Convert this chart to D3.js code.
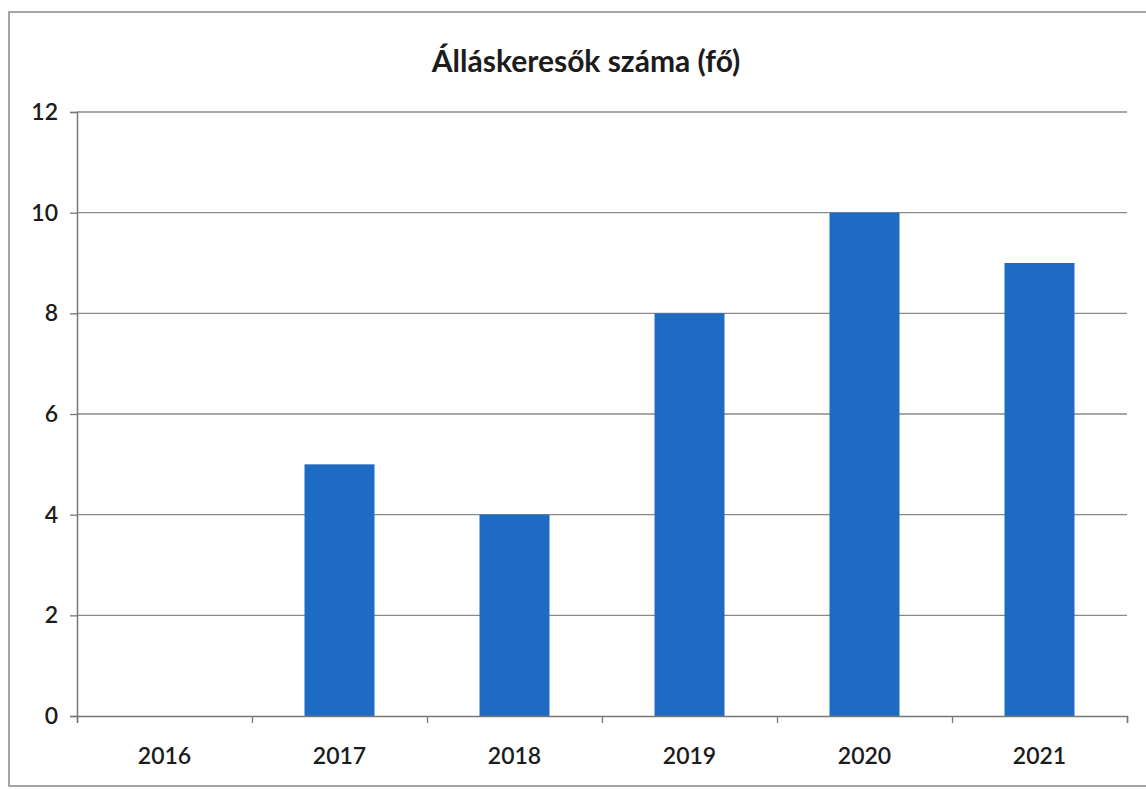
<!DOCTYPE html>
<html>
<head>
<meta charset="utf-8">
<script src="https://cdn.jsdelivr.net/npm/d3@7"></script>
<style>
  body { margin: 0; background: #fff; }
  text { font-family: Lato, "Open Sans", sans-serif; fill: #1c1c1c; }
</style>
</head>
<body>
<div id="chart"></div>
<script>
// Data
var years = ['2016', '2017', '2018', '2019', '2020', '2021'];
var jobSeekers = [0, 5, 4, 8, 10, 9];
var yTicks = [0, 2, 4, 6, 8, 10, 12];
var title = 'Álláskeresők száma (fő)';

var svgWidth = 1146, svgHeight = 789;
var margin = { top: 112, bottom: 73, left: 77, right: 19 };
var width = svgWidth - margin.left - margin.right;
var height = svgHeight - margin.top - margin.bottom;

var svg = d3.select('#chart')
    .append('svg')
    .attr('width', svgWidth)
    .attr('height', svgHeight);

// outer frame of the chart
svg.append('rect')
    .attr('x', 9).attr('y', 12)
    .attr('width', svgWidth + 10).attr('height', 774)
    .attr('fill', 'none')
    .attr('stroke', '#888')
    .attr('stroke-width', 1.5);

var chartGroup = svg.append('g')
    .attr('transform', `translate(${margin.left}, ${margin.top})`);

// Scales
var xBandScale = d3.scaleBand()
    .domain(years)
    .range([0, width])
    .paddingInner(0.6)
    .paddingOuter(0.3);

var yLinearScale = d3.scaleLinear()
    .domain([0, 12])
    .range([height, 0]);

// Gridlines
chartGroup.append('g')
    .selectAll('line')
    .data(yTicks.filter(d => d > 0))
    .enter()
    .append('line')
    .attr('x1', 0)
    .attr('x2', width)
    .attr('y1', d => yLinearScale(d))
    .attr('y2', d => yLinearScale(d))
    .attr('stroke', '#8a8a8a')
    .attr('stroke-width', 1.3);

// Bars
chartGroup.selectAll('.bar')
    .data(jobSeekers)
    .enter()
    .append('rect')
    .attr('class', 'bar')
    .attr('x', (d, i) => xBandScale(years[i]))
    .attr('y', d => yLinearScale(d))
    .attr('width', xBandScale.bandwidth())
    .attr('height', d => height - yLinearScale(d))
    .attr('fill', '#1e6bc4');

// Left axis
var leftAxis = d3.axisLeft(yLinearScale)
    .tickValues(yTicks)
    .tickSize(7)
    .tickPadding(12);

var yAxisG = chartGroup.append('g').call(leftAxis);
yAxisG.select('.domain').attr('stroke', '#777').attr('stroke-width', 1.5);
yAxisG.selectAll('.tick line').attr('stroke', '#777').attr('stroke-width', 1.3);
yAxisG.selectAll('text')
    .style('font-size', '23px')
    .style('font-weight', '600')
    .style('font-family', 'Lato, "Open Sans", sans-serif')
    .attr('fill', '#1c1c1c');

// Bottom axis: category boundaries get the ticks, labels centred in the bands
var boundaries = d3.range(years.length + 1).map(i => i * width / years.length);
var xEdge = d3.scaleLinear().domain([0, width]).range([0, width]);
var bottomAxis = d3.axisBottom(xEdge)
    .tickValues(boundaries)
    .tickSize(7)
    .tickFormat('');

var xAxisG = chartGroup.append('g')
    .attr('transform', `translate(0, ${height})`)
    .call(bottomAxis);
xAxisG.select('.domain').attr('stroke', '#777').attr('stroke-width', 1.5);
xAxisG.selectAll('.tick line').attr('stroke', '#777').attr('stroke-width', 1.3);

chartGroup.append('g')
    .selectAll('text')
    .data(years)
    .enter()
    .append('text')
    .attr('x', d => xBandScale(d) + xBandScale.bandwidth() / 2)
    .attr('y', height + 48)
    .attr('text-anchor', 'middle')
    .style('font-size', '23px')
    .style('font-weight', '600')
    .text(d => d);

// Title
svg.append('text')
    .attr('x', 586)
    .attr('y', 72)
    .attr('text-anchor', 'middle')
    .style('font-size', '30px')
    .style('font-weight', 'bold')
    .text(title);
</script>
</body>
</html>
